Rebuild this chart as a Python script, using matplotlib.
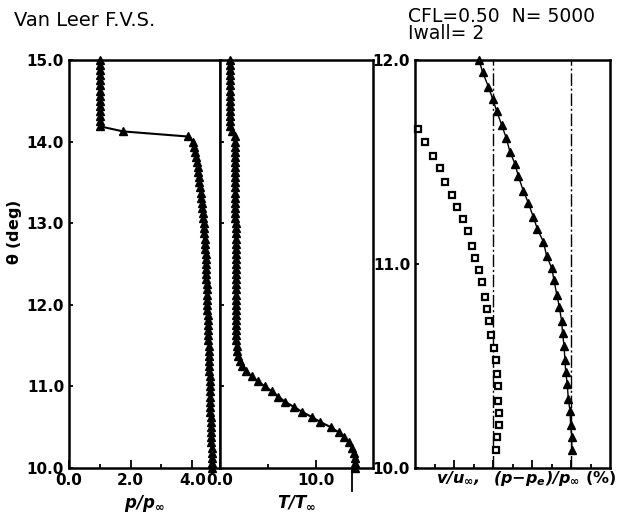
import matplotlib
matplotlib.use("Agg")
import matplotlib.pyplot as plt
from matplotlib.ticker import FixedLocator

plt.rcParams['font.family'] = ['DejaVu Sans']
plt.rcParams['mathtext.fontset'] = 'dejavusans'

# --- data ------------------------------------------------------------------
# shock-layer grid (deg), top to bottom
theta = [15.0, 14.9375, 14.875, 14.8125, 14.75, 14.6875, 14.625, 14.5625, 14.5, 14.4375,
         14.375, 14.3125, 14.25, 14.1875, 14.125, 14.0625, 14.0, 13.9375, 13.875, 13.8125,
         13.75, 13.6875, 13.625, 13.5625, 13.5, 13.4375, 13.375, 13.3125, 13.25, 13.1875,
         13.125, 13.0625, 13.0, 12.9375, 12.875, 12.8125, 12.75, 12.6875, 12.625, 12.5625,
         12.5, 12.4375, 12.375, 12.3125, 12.25, 12.1875, 12.125, 12.0625, 12.0, 11.9375,
         11.875, 11.8125, 11.75, 11.6875, 11.625, 11.5625, 11.5, 11.4375, 11.375, 11.3125,
         11.25, 11.1875, 11.125, 11.0625, 11.0, 10.9375, 10.875, 10.8125, 10.75, 10.6875,
         10.625, 10.5625, 10.5, 10.4375, 10.375, 10.3125, 10.25, 10.1875, 10.125, 10.0625,
         10.0]

p_ratio = [1.0, 1.0, 1.0, 1.0, 1.0, 1.0, 1.0, 1.0, 1.0, 1.0,
           1.0, 1.0, 1.0, 1.0, 1.75, 3.85, 4.02, 4.07, 4.10, 4.13,
           4.15, 4.17, 4.19, 4.21, 4.23, 4.25, 4.27, 4.29, 4.31, 4.33,
           4.34, 4.36, 4.37, 4.38, 4.39, 4.40, 4.41, 4.42, 4.43, 4.44,
           4.44, 4.45, 4.46, 4.46, 4.47, 4.47, 4.48, 4.48, 4.49, 4.49,
           4.50, 4.50, 4.51, 4.51, 4.52, 4.52, 4.53, 4.53, 4.54, 4.54,
           4.55, 4.55, 4.56, 4.56, 4.57, 4.57, 4.58, 4.58, 4.59, 4.59,
           4.60, 4.60, 4.61, 4.61, 4.62, 4.62, 4.63, 4.63, 4.64, 4.64,
           4.65]

T_ratio = [1.0, 1.0, 1.0, 1.0, 1.0, 1.0, 1.0, 1.0, 1.0, 1.0,
           1.0, 1.0, 1.0, 1.0, 1.3, 1.55, 1.60, 1.60, 1.60, 1.60,
           1.60, 1.60, 1.61, 1.61, 1.61, 1.61, 1.62, 1.62, 1.62, 1.62,
           1.62, 1.62, 1.63, 1.63, 1.63, 1.63, 1.63, 1.64, 1.64, 1.64,
           1.64, 1.64, 1.65, 1.65, 1.65, 1.66, 1.66, 1.66, 1.67, 1.67,
           1.68, 1.68, 1.69, 1.70, 1.71, 1.72, 1.74, 1.78, 1.88, 2.05,
           2.3, 2.75, 3.3, 3.95, 4.7, 5.45, 6.1, 6.8, 7.7, 8.6,
           9.6, 10.5, 11.6, 12.4, 13.0, 13.45, 13.8, 14.0, 14.1, 14.1,
           14.1]
T_wall = 13.8

# near-wall close-up (right panel)
theta_dp = [12.00, 11.94, 11.87, 11.81, 11.75, 11.68, 11.62, 11.55, 11.49, 11.43,
            11.36, 11.30, 11.23, 11.17, 11.11, 11.04, 10.98, 10.92, 10.85, 10.79,
            10.72, 10.66, 10.60, 10.53, 10.47, 10.41, 10.34, 10.28, 10.21, 10.15,
            10.09]
dp = [3.28, 3.47, 3.76, 3.98, 4.19, 4.45, 4.67, 4.87, 5.13, 5.30,
      5.55, 5.81, 6.07, 6.28, 6.58, 6.75, 7.01, 7.13, 7.27, 7.40,
      7.52, 7.57, 7.64, 7.69, 7.73, 7.81, 7.86, 7.95, 7.98, 8.04,
      8.04]
theta_v = [11.66, 11.60, 11.53, 11.47, 11.40, 11.34, 11.28, 11.22, 11.16, 11.09,
           11.03, 10.97, 10.91, 10.84, 10.78, 10.72, 10.65, 10.59, 10.53, 10.46,
           10.40, 10.33, 10.27, 10.21, 10.15, 10.09]
v_u = [0.17, 0.51, 0.94, 1.28, 1.54, 1.88, 2.17, 2.45, 2.72, 2.91,
       3.08, 3.30, 3.42, 3.59, 3.71, 3.81, 3.90, 4.05, 4.15, 4.19,
       4.24, 4.27, 4.31, 4.31, 4.19, 4.14]
ref_lines = [4, 8]

W, H = 627, 518
fig = plt.figure(figsize=(W / 100, H / 100), dpi=100)


def box(x0, y0, x1, y1):
    # pixel box (top-left origin) -> figure fraction rect
    return [x0 / W, 1 - y1 / H, (x1 - x0) / W, (y1 - y0) / H]


def fx(x):
    return x / W


def fy(y):
    return 1 - y / H


ax_p = fig.add_axes(box(69, 60, 220, 468))
ax_t = fig.add_axes(box(220, 60, 373, 468))
ax_w = fig.add_axes(box(415, 60, 610, 468))

tick_font = dict(fontsize=11, fontweight='bold')
for ax in (ax_p, ax_t, ax_w):
    for s in ax.spines.values():
        s.set_linewidth(1.8)
    ax.tick_params(which='both', direction='in', width=1.3, labelsize=11)
    ax.tick_params(which='major', length=6)
    ax.tick_params(which='minor', length=3)

# pressure panel
ax_p.plot(p_ratio, theta, '-^', color='black', lw=1.5, ms=5.5, clip_on=False)
ax_p.set_xlim(0, 4.9)
ax_p.set_ylim(10, 15)
ax_p.set_xticks([0, 2, 4])
ax_p.set_xticklabels(['0.0', '2.0', '4.0'], **tick_font)
ax_p.xaxis.set_minor_locator(FixedLocator([1, 3]))
ax_p.set_yticks([10, 11, 12, 13, 14, 15])
ax_p.set_yticklabels(['10.0', '11.0', '12.0', '13.0', '14.0', '15.0'], **tick_font)
ax_p.tick_params(axis='y', length=3)

# temperature panel
ax_t.plot(T_ratio, theta, '-^', color='black', lw=1.5, ms=5.5, clip_on=False)
ax_t.plot([T_wall, T_wall], [10.0, 9.72], color='black', lw=1.3, clip_on=False)
ax_t.set_xlim(0, 16)
ax_t.set_ylim(10, 15)
ax_t.set_xticks([0, 10])
ax_t.set_xticklabels(['0.0', '10.0'], **tick_font)
ax_t.xaxis.set_minor_locator(FixedLocator([5]))
ax_t.set_yticks([11, 12, 13, 14])
ax_t.set_yticklabels([])
ax_t.tick_params(axis='y', length=3)

# near-wall panel
for xv in ref_lines:
    ax_w.axvline(xv, color='black', lw=1.0, ls=(0, (9, 2, 1.5, 2)))
ax_w.plot(dp, theta_dp, '-^', color='black', lw=1.0, ms=5.5, clip_on=False)
ax_w.plot(v_u, theta_v, 's', color='black', mfc='white', mew=1.6, ms=4.5, clip_on=False)
ax_w.set_xlim(0, 10)
ax_w.set_ylim(10, 12)
ax_w.set_xticks([2, 4, 6, 8])
ax_w.set_xticklabels([])
ax_w.xaxis.set_minor_locator(FixedLocator([1, 3, 5, 7, 9]))
ax_w.set_yticks([10, 11, 12])
ax_w.set_yticklabels(['10.0', '11.0', '12.0'], **tick_font)
ax_w.tick_params(axis='y', length=3)

# labels
ax_p.set_xlabel(r'$\mathbfit{p/p_\infty}$', fontsize=12, labelpad=4)
ax_t.set_xlabel(r'$\mathbfit{T/T_\infty}$', fontsize=12, labelpad=4)
fig.text(fx(526), fy(478), r'$\mathbfit{v/u_\infty,\ \ (p{-}p_e)/p_\infty}$ (%)',
         fontsize=11.5, fontweight='bold', ha='center', va='center')
fig.text(fx(14), fy(232), r'$\mathbf{\theta}$ (deg)', fontsize=11.5,
         fontweight='bold', rotation=90, ha='center', va='center')

fig.text(fx(14), fy(21), 'Van Leer F.V.S.', fontsize=14, ha='left', va='center')
fig.text(fx(408), fy(25), 'CFL=0.50  N= 5000\nIwall= 2', fontsize=13.5,
         ha='left', va='center', linespacing=0.85)

fig.savefig('out.png', dpi=100)
